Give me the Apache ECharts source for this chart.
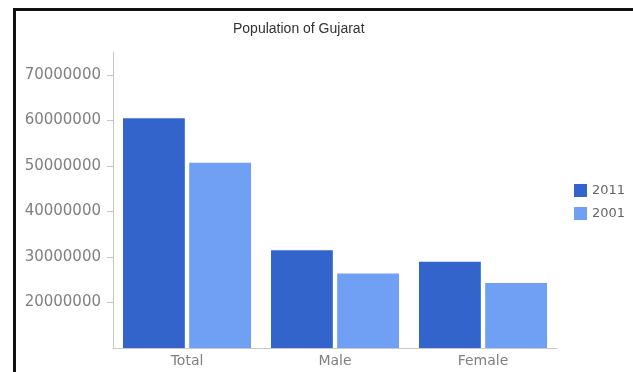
<!DOCTYPE html>
<html>
<head>
<meta charset="utf-8">
<style>
  html, body { margin: 0; padding: 0; background: #fff; }
  #chart { width: 633px; height: 372px; }
</style>
<script src="https://cdn.jsdelivr.net/npm/echarts@6/dist/echarts.min.js"></script>
</head>
<body>
<div id="chart"></div>
<script>
var categories = ["Total", "Male", "Female"];
var pop2011 = [60439692, 31491260, 28948432];
var pop2001 = [50671017, 26385577, 24285440];
var seriesNames = ["2011", "2001"];

var chart = echarts.init(document.getElementById("chart"));

chart.setOption({
    animation: false,
    title: {
        text: "Population of Gujarat",
        left: 228, top: 17,
        textStyle: {fontSize: 14, fontWeight: "normal", color: "#333", fontFamily: "Liberation Sans"}
    },
    legend: {
        orient: "vertical",
        left: 569, top: 179,
        itemWidth: 13, itemHeight: 13, itemGap: 10,
        icon: "rect",
        data: seriesNames,
        textStyle: {fontSize: 13, color: "#666", fontFamily: "DejaVu Sans"}
    },
    grid: {left: 113, right: 76, top: 52, bottom: 24, containLabel: false},
    xAxis: {
        type: "category",
        data: categories,
        axisLine: {lineStyle: {color: "#c8c8c8"}},
        axisTick: {alignWithLabel: true, length: 4, lineStyle: {color: "#c8c8c8"}},
        axisLabel: {margin: 6, color: "#808080", fontSize: 14, fontFamily: "DejaVu Sans"}
    },
    yAxis: {
        type: "value",
        min: 10000000, max: 75000000, interval: 10000000,
        splitLine: {show: false},
        axisLine: {show: true, lineStyle: {color: "#c8c8c8"}},
        axisTick: {show: true, length: 6, lineStyle: {color: "#c8c8c8"}},
        axisLabel: {
            margin: 12, showMinLabel: false, showMaxLabel: false,
            color: "#808080", fontSize: 15, fontFamily: "DejaVu Sans",
            formatter: function (v) { return String(v); }
        }
    },
    series: [{
        name: seriesNames[0], type: "bar", data: pop2011,
        barCategoryGap: "13.5%", barGap: "7%",
        itemStyle: {color: "#3364cc"}
    }, {
        name: seriesNames[1], type: "bar", data: pop2001,
        itemStyle: {color: "#70a0f4"}
    }],
    graphic: [{
        type: "polyline",
        shape: {points: [[14.5, 372], [14.5, 9.5], [633, 9.5]]},
        style: {stroke: "#111", lineWidth: 3, fill: null},
        silent: true
    }]
});
</script>
</body>
</html>
